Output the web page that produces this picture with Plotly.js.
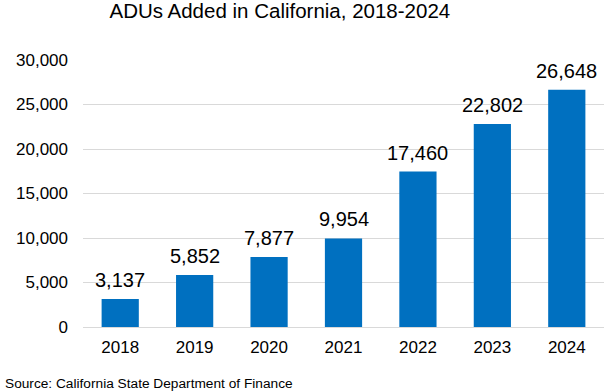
<!DOCTYPE html>
<html><head><meta charset="utf-8">
<script src="https://cdn.plot.ly/plotly-3.0.1.min.js"></script>
<style>html,body{margin:0;padding:0;background:#fff}#c{width:611px;height:391px}</style>
</head><body><div id="c"></div>
<script>
const years = ['2018','2019','2020','2021','2022','2023','2024'];
const adus = [3137, 5852, 7877, 9954, 17460, 22802, 26648];
const yTicks = [0, 5000, 10000, 15000, 20000, 25000, 30000];
const titleText = 'ADUs Added in California, 2018-2024';
const sourceText = 'Source: California State Department of Finance';

const font = 'Arial, "Liberation Sans", sans-serif';
const labels = years.map((yr, i) => ({
  x: i, y: adus[i], xref: 'x', yref: 'y', text: adus[i].toLocaleString('en-US'),
  showarrow: false, xanchor: 'center', yanchor: 'bottom', yshift: 6,
  font: {family: font, size: 20, color: '#000'}
}));
Plotly.newPlot('c', [{
  type: 'bar', x: years, y: adus,
  marker: {color: '#0070C0'},
  hoverinfo: 'none'
}], {
  width: 611, height: 391,
  margin: {l: 83, r: 7, t: 60, b: 64},
  paper_bgcolor: '#fff', plot_bgcolor: '#fff',
  bargap: 0.5,
  showlegend: false,
  title: {text: titleText, font: {family: font, size: 20.5, color: '#000'}, x: 0.458, xanchor: 'center', y: 0.99, yanchor: 'top', xref: 'container', yref: 'container'},
  xaxis: {type: 'category', range: [-0.5, 6.5], tickfont: {family: font, size: 17, color: '#000'}, showline: true, linecolor: '#D9D9D9', linewidth: 1, ticks: '', showgrid: false, ticklabelstandoff: 5},
  yaxis: {range: [0, 30000], tickvals: yTicks, ticktext: yTicks.map(v => v.toLocaleString('en-US')), tickfont: {family: font, size: 17, color: '#000'}, showgrid: true, gridcolor: '#D9D9D9', gridwidth: 1, zeroline: false, ticks: '', ticklen: 0, showline: false, ticklabelstandoff: 14, automargin: false},
  annotations: labels.concat([{text: sourceText, xref: 'paper', yref: 'paper', x: -80/521, y: 0, xanchor: 'left', yanchor: 'top', yshift: -47, showarrow: false, font: {family: font, size: 13.7, color: '#000'}}])
}, {displayModeBar: false, staticPlot: true});
</script></body></html>
